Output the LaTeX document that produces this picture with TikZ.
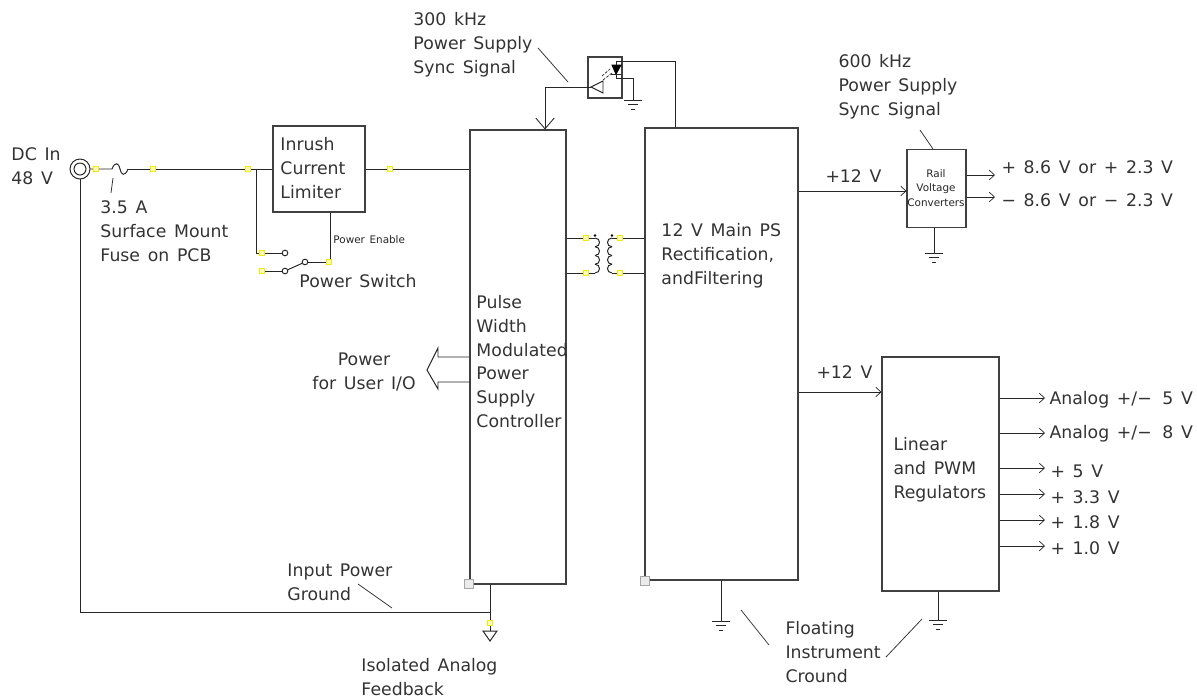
\documentclass[tikz,border=0pt]{standalone}
\usepackage{fontspec}
\setmainfont{DejaVu Sans}[WordSpace=1.4]
\usepackage{tikz}
\usetikzlibrary{positioning,arrows.meta}

\begin{document}
\begin{tikzpicture}[
x=0.025cm, y=-0.025cm,
line width=0.7pt,
block/.style={draw=black!75, line width=0.75pt, inner sep=0pt},
label/.style={inner sep=0pt, anchor=west, align=left, font=\fontsize{12.3}{17}\selectfont, text=black!80},
small/.style={inner sep=0pt, font=\fontsize{7.4}{10.4}\selectfont, text=black!85, align=center},
wire/.style={black!85},
sig/.style={black!85, -{Straight Barb[length=1.3mm,width=2.4mm,line width=0.5pt]}},
bigsig/.style={black!85, -{Straight Barb[length=2.7mm,width=4.6mm,line width=0.6pt]}},
lead/.style={black!80, line width=0.55pt},
grip/.style={draw=yellow!95!black, fill=yellow!30, line width=0.6pt, minimum size=3pt, inner sep=0pt},
xbox/.style={draw=black!35, fill=black!8, line width=0.6pt, minimum size=6pt, inner sep=0pt},
pin/.style={circle, draw=black!85, fill=white, minimum size=4pt, inner sep=0pt},
]
\useasboundingbox (0,0) rectangle (1197,698);
% blocks
\node[block, minimum width=92*0.025cm, minimum height=86*0.025cm] (limiter) at (319,169) {};
\node[block, minimum width=96*0.025cm, minimum height=454*0.025cm] (pwm) at (518,357) {};
\node[block, minimum width=153*0.025cm, minimum height=452*0.025cm] (mainps) at (721.5,354) {};
\node[block, minimum width=59*0.025cm, minimum height=78*0.025cm] (rail) at (936.5,188.5) {};
\node[block, minimum width=117*0.025cm, minimum height=234*0.025cm] (linear) at (940.5,474) {};
\node[block, minimum width=34*0.025cm, minimum height=41*0.025cm] (opto) at (605,77.5) {};
% texts
\node[label] (dcin) at (11,166.5) {DC In\\48 V};
\node[label] (fusetxt) at (100,231) {3.5 A\\Surface Mount\\Fuse on PCB};
\node[label] (inrush) at (280,168) {Inrush\\Current\\Limiter};
\node[label] (swtxt) at (299,281) {Power Switch};
\node[small, anchor=west] (entxt) at (333,240) {Power Enable};
\node[label, align=center] (usertxt) at (312,372) {Power\\for User I/O};
\node[label] (pwmtxt) at (476,361.5) {Pulse\\Width\\Modulated\\Power\\Supply\\Controller};
\node[label] (maintxt) at (661,256) {12 V Main PS\\Rectification,\\andFiltering};
\node[label] (lintxt) at (893,470) {Linear\\and PWM\\Regulators};
\node[small] (railtxt) at (936,188) {Rail\\Voltage\\Converters};
\node[label] (s300) at (413,45) {300 kHz\\Power Supply\\Sync Signal};
\node[label] (s600) at (838,87) {600 kHz\\Power Supply\\Sync Signal};
\node[label] (p12a) at (825,176) {+12 V};
\node[label] (p12b) at (816,372) {+12 V};
\node[label] (o86p) at (1001,167) {+ 8.6 V or + 2.3 V};
\node[label] (o86m) at (1001,200) {− 8.6 V or − 2.3 V};
\node[label] (o5a) at (1049,400) {Analog +/− \,5 V};
\node[label] (o8a) at (1049,434) {Analog +/− \,8 V};
\node[label] (o5) at (1050,471) {+ 5 V};
\node[label] (o33) at (1050,497) {+ 3.3 V};
\node[label] (o18) at (1050,522) {+ 1.8 V};
\node[label] (o10) at (1050,548) {+ 1.0 V};
\node[label] (igndtxt) at (287,582) {Input Power\\Ground};
\node[label] (fbtxt) at (361,677) {Isolated Analog\\Feedback};
\node[label] (fgndtxt) at (785,652) {Floating\\Instrument\\Cround};
% input side
\node[circle, draw=black!85, minimum size=20*0.025cm, inner sep=0pt] (jack) at (80,169) {};
\node[circle, draw=black!85, minimum size=12*0.025cm, inner sep=0pt] at (jack) {};
\coordinate (fusea) at (112,169);
\coordinate (fuseb) at (128,169);
\draw[wire] (jack) -- (fusea) .. controls (115,161) and (119,163) .. (120,169) .. controls (121,175) and (125,177) .. (fuseb);
\draw[wire] (fuseb) -- (limiter.west |- fuseb);
\draw[wire] (limiter.east |- fuseb) -- (pwm.west |- fuseb);
\coordinate (pgnd) at (490,612);
\coordinate (isotop) at (490,631);
\draw[wire] (jack) -- (80,612) -- (pgnd);
\draw[wire] (pwm.south -| pgnd) -- (isotop);
\draw[wire] (483,631) -- (497,631) -- (490,641) -- cycle;
\draw[lead] (113,178) -- (111,193);
% power switch
\node[pin] (swa) at (285,253) {};
\node[pin] (swb) at (285,271) {};
\node[pin] (swc) at (305,262) {};
\draw[wire] (256,169) -- (256,253) -- (swa);
\draw[wire] (262,271) -- (swb);
\draw[wire] (swb) -- (swc);
\draw[wire] (swc) -- (330,262) -- (limiter.south -| 330,0);
% user power arrow
\coordinate (uhigh) at (438,357);
\coordinate (ulow) at (438,382);
\draw[wire] (pwm.west |- uhigh) -- (uhigh) -- (438,348) -- (427,370) -- (438,389) -- (ulow) -- (pwm.west |- ulow);
% opto coupler
\coordinate (optotip) at (591,87);
\draw[wire] (optotip) -- (603,81) -- (603,93) -- cycle;
\draw[bigsig] (optotip) -- (545,87) -- (pwm.north -| 545,0);
\draw[lead, dashed, dash pattern=on 2pt off 1pt] (602,76) -- (610,69);
\draw[lead, dashed, dash pattern=on 2pt off 1pt] (603,80) -- (612,73);
\draw[black, fill=black] (612,65) -- (621,65) -- (616,74) -- cycle;
\draw[wire] (611,74) -- (621,74);
\draw[wire] (616,65) -- (616,61) -- (675,61) -- (mainps.north -| 675,0);
\coordinate (optognd) at (633,100);
\draw[wire] (616,74) -- (616,78) -- (633,78) -- (optognd);
\foreach \gx/\gy in {633/100, 721/621, 934/253, 938/620}{
  \draw[wire] (\gx-9,\gy) -- (\gx+9,\gy);
  \draw[wire] (\gx-5,\gy+4) -- (\gx+5,\gy+4);
  \draw[wire] (\gx-2,\gy+9) -- (\gx+2,\gy+9);
}
% transformer
\foreach \ty in {238,273}{
  \draw[wire] (pwm.east |- 0,\ty) -- (595,\ty);
  \draw[wire] (612,\ty) -- (mainps.west |- 0,\ty);
}
\foreach \cy in {238,246.75,255.5,264.25}{
  \draw[wire] (595,\cy) .. controls (601,\cy) and (601,\cy+8.75) .. (595,\cy+8.75);
  \draw[wire] (612,\cy) .. controls (606,\cy) and (606,\cy+8.75) .. (612,\cy+8.75);
}
\fill (595,235.5) circle (0.9pt);
\fill (612,235.5) circle (0.9pt);
% outputs
\draw[sig] (mainps.east |- 0,191) -- (rail.west |- 0,191);
\draw[sig] (mainps.east |- 0,392) -- (linear.west |- 0,392);
\draw[sig] (rail.east |- 0,175) -- (995,175);
\draw[sig] (rail.east |- 0,197) -- (995,197);
\draw[wire] (rail.south -| 934,0) -- (934,253);
\draw[wire] (mainps.south -| 721,0) -- (721,621);
\draw[wire] (linear.south -| 938,0) -- (938,620);
\foreach \oy in {398,433,468,494,520,546}{
  \draw[sig] (linear.east |- 0,\oy) -- (1045,\oy);
}
% leaders
\draw[lead] (538,48) -- (568,82);
\draw[lead] (920,130) -- (rail.north -| 933,0);
\draw[lead] (358,584) -- (392,608);
\draw[lead] (741,610) -- (769,645);
\draw[lead] (886,657) -- (922,619);
% grips
\foreach \mx/\my in {96/169,153/169,248/169,390/169,262/253,262/271,329/262,490/623,586/238,586/273,620/238,620/273}{
  \node[grip] at (\mx,\my) {};
}
\node[xbox] at (469,584) {};
\node[xbox] at (645,581) {};
\end{tikzpicture}
\end{document}
